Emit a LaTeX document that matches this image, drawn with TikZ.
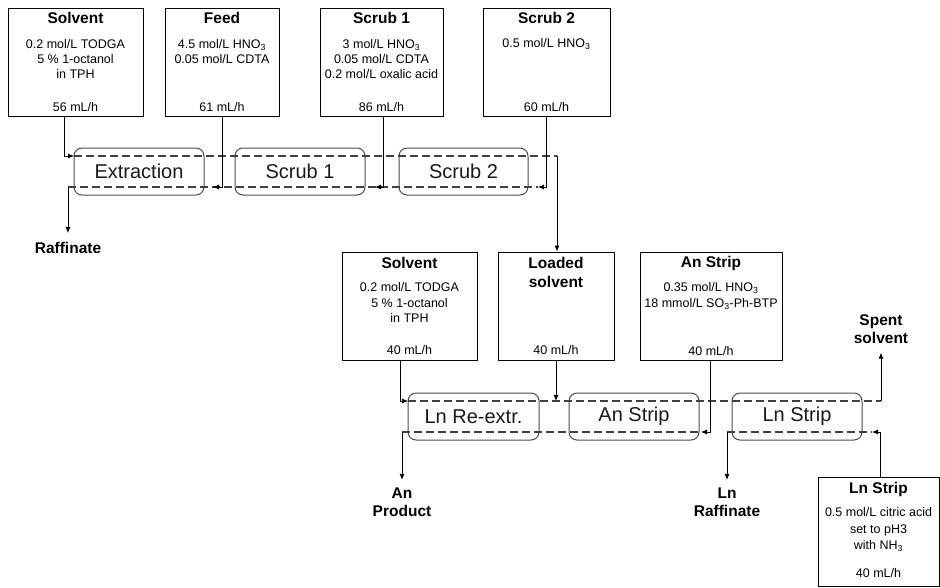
\documentclass[tikz,border=0pt]{standalone}
\usepackage{fontspec}
\setmainfont{Liberation Sans}
\usetikzlibrary{arrows.meta,calc}
\begin{document}
\begin{tikzpicture}[x=1pt,y=-1pt,
  feedbox/.style={draw=black,line width=0.8pt,minimum height=108pt,inner sep=0pt},
  unitbox/.style={draw=black!70,line width=1pt,rounded corners=8pt,minimum height=47pt,inner sep=0pt,font=\fontsize{20}{24}\selectfont,text=black!90},
  ttl/.style={font=\fontsize{15.5}{18}\selectfont\bfseries,align=center,inner sep=0pt},
  cont/.style={font=\fontsize{12.5}{15}\selectfont,align=center,inner sep=0pt},
  dline/.style={draw=black!75,line width=1.1pt,dash pattern=on 8pt off 4pt},
  arr/.style={draw=black,line width=0.8pt,-{Latex[length=6pt,width=5pt]}},
]
\useasboundingbox (0,0) rectangle (940,587);

% ---- top feed boxes
\node[feedbox,minimum width=135pt] (solA) at (75.5,62) {};
\node[ttl] (solAt) at (75.5,18) {Solvent};
\node[cont] (solAc) at (75.5,59) {0.2 mol/L TODGA\\5 \% 1-octanol\\in TPH};
\node[cont] (solAr) at (75.5,107) {56 mL/h};

\node[feedbox,minimum width=114pt] (feed) at (222,62) {};
\node[ttl] (feedt) at (222,18) {Feed};
\node[cont] (feedc) at (222,51.5) {4.5 mol/L HNO\textsubscript{3}\\0.05 mol/L CDTA};
\node[cont] (feedr) at (222,107) {61 mL/h};

\node[feedbox,minimum width=123pt] (scr1) at (381.5,62) {};
\node[ttl] (scr1t) at (381.5,18) {Scrub 1};
\node[cont] (scr1c) at (381.5,59) {3 mol/L HNO\textsubscript{3}\\0.05 mol/L CDTA\\0.2 mol/L oxalic acid};
\node[cont] (scr1r) at (381.5,107) {86 mL/h};

\node[feedbox,minimum width=127pt] (scr2) at (546.5,62) {};
\node[ttl] (scr2t) at (546.5,18) {Scrub 2};
\node[cont] (scr2c) at (546.5,44) {0.5 mol/L HNO\textsubscript{3}};
\node[cont] (scr2r) at (546.5,107) {60 mL/h};

% ---- row 1 units
\node[unitbox,minimum width=130pt] (ext) at (139,171.5) {Extraction};
\node[unitbox,minimum width=130pt] (s1u) at (300,171.5) {Scrub 1};
\node[unitbox,minimum width=129pt] (s2u) at (463.5,171.5) {Scrub 2};

\coordinate (r1tl) at (74,156);
\coordinate (r1tr) at (557,156);
\coordinate (r1bl) at (68,187);
\coordinate (r1br) at (538,187);
\coordinate (fdin) at (213,187);
\coordinate (s1in) at (375,187);

\draw[dline] (r1tl) -- (r1tr);
\draw[dline] (r1bl) -- (r1br);

\draw[arr] ([xshift=-11.5pt]solA.south) |- (r1tl);
\draw[arr] (feed.south) |- (fdin);
\draw[arr] ([xshift=1.5pt]scr1.south) |- (s1in);
\draw[arr] (scr2.south) |- (r1br);

\node[ttl] (raff) at (68,248) {Raffinate};
\draw[arr,shorten >=9pt] (r1bl) -- (raff.north);

% ---- row 2 feed boxes
\node[feedbox,minimum width=135pt] (solB) at (409.5,306) {};
\node[ttl] (solBt) at (409.5,263) {Solvent};
\node[cont,font=\fontsize{12.5}{15.5}\selectfont] (solBc) at (409.5,302.5) {0.2 mol/L TODGA\\5 \% 1-octanol\\in TPH};
\node[cont] (solBr) at (409.5,350) {40 mL/h};

\node[feedbox,minimum width=116pt] (load) at (556,306) {};
\node[ttl,font=\fontsize{15.5}{19}\selectfont\bfseries] (loadt) at (556,272.5) {Loaded\\solvent};
\node[cont] (loadr) at (556,350) {40 mL/h};

\node[feedbox,minimum width=142pt] (anS) at (711,306) {};
\node[ttl] (anSt) at (711,263) {An Strip};
\node[cont,font=\fontsize{12.5}{16}\selectfont] (anSc) at (711,296) {0.35 mol/L HNO\textsubscript{3}\\18 mmol/L SO\textsubscript{3}-Ph-BTP};
\node[cont] (anSr) at (711,351) {40 mL/h};

\node[feedbox,minimum width=121pt,minimum height=109pt] (lnS) at (878.5,531.5) {};
\node[ttl] (lnSt) at (878.5,489) {Ln Strip};
\node[cont,font=\fontsize{12.5}{16.5}\selectfont] (lnSc) at (878.5,529.5) {0.5 mol/L citric acid\\set to pH3\\with NH\textsubscript{3}};
\node[cont] (lnSr) at (878.5,573) {40 mL/h};

% ---- row 2 units
\node[unitbox,minimum width=131pt] (lnre) at (473.5,416.5) {Ln Re-extr.};
\node[unitbox,minimum width=130pt] (anu) at (634,416.5) {An Strip};
\node[unitbox,minimum width=130pt] (lnu) at (797,416.5) {Ln Strip};

\coordinate (r2tl) at (408,401);
\coordinate (r2tr) at (881,401);
\coordinate (r2bl) at (402,432);
\coordinate (r2bm) at (701,432);
\coordinate (r2bm2) at (727,432);
\coordinate (r2br) at (872,432);

\draw[dline] (r2tl) -- (r2tr);
\draw[dline] (r2bl) -- (r2bm);
\draw[dline] (r2bm2) -- (r2br);

% connection row1 -> loaded solvent
\draw[arr] (r1tr) -- (r1tr |- load.north);

\draw[arr] ([xshift=-9.5pt]solB.south) |- (r2tl);
\draw[arr] (load.south) -- (load.south |- r2tl);
\draw[arr] ([xshift=-1pt]anS.south) |- (r2bm);
\draw[arr] ([xshift=1.5pt]lnS.north) |- (r2br);

\node[ttl] (spent) at (881,329) {Spent\\solvent};
\draw[arr,shorten >=9pt] (r2tr) -- (spent.south);

\node[ttl] (anp) at (402,502) {An\\Product};
\draw[arr,shorten >=7.5pt] (r2bl) -- (anp.north);

\node[ttl] (lnr) at (727,502) {Ln\\Raffinate};
\draw[arr,shorten >=7.5pt] (r2bm2) -- (lnr.north);
\end{tikzpicture}
\end{document}
